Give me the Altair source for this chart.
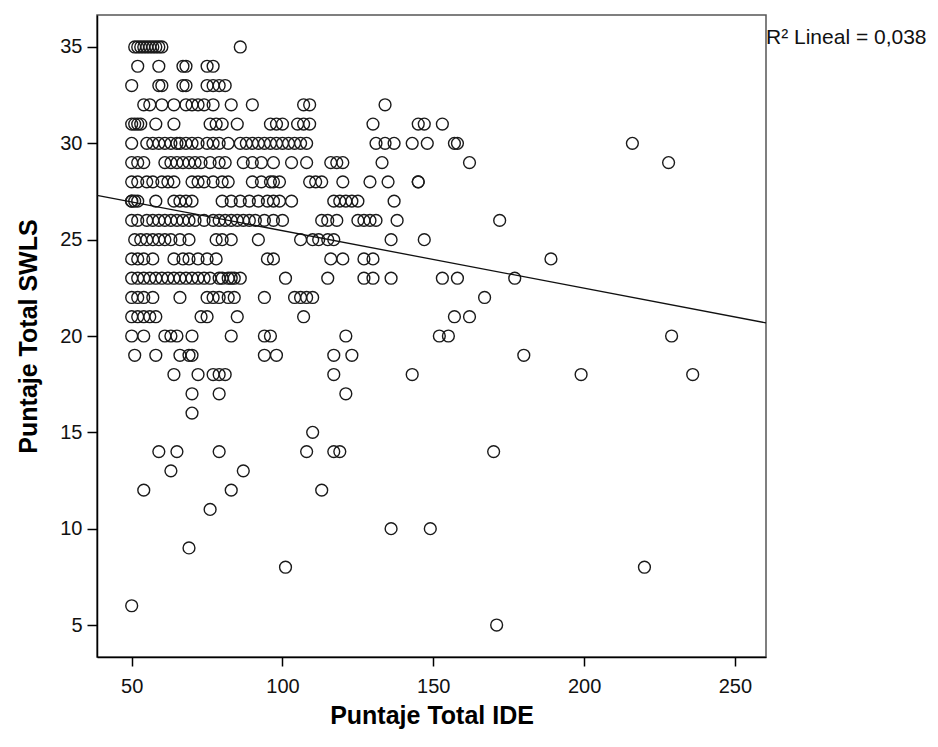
import altair as alt
import pandas as pd

# IDE total scores, grouped by their SWLS total score
ide_swls35 = [51, 52, 53, 54, 55, 56, 57, 58, 59, 60, 86]
ide_swls34 = [52, 59, 67, 68, 75, 77]
ide_swls33 = [50, 59, 60, 67, 68, 75, 77, 79, 81]
ide_swls32 = [54, 56, 60, 64, 68, 70, 72, 74, 77, 83, 90, 107, 109, 134]
ide_swls31 = [50, 51, 52, 53, 58, 64, 76, 78, 80, 85, 96, 98, 100, 105, 107,
              109, 130, 145, 147, 153]
ide_swls30 = [50, 55, 57, 59, 61, 63, 65, 66, 68, 70, 72, 75, 77, 79, 82, 86,
              88, 90, 92, 94, 96, 98, 100, 102, 104, 106, 108, 131, 134, 137,
              143, 148, 157, 158, 216]
ide_swls29 = [50, 52, 54, 61, 63, 65, 67, 69, 71, 73, 76, 79, 81, 87, 90, 93,
              97, 103, 108, 116, 118, 120, 133, 162, 228]
ide_swls28 = [50, 52, 55, 57, 60, 62, 64, 70, 72, 74, 77, 80, 82, 90, 93, 96,
              97, 99, 109, 111, 113, 120, 129, 135, 145, 145]
ide_swls27 = [50, 50, 51, 52, 58, 64, 66, 68, 70, 80, 83, 86, 89, 92, 95, 97,
              99, 103, 117, 119, 121, 123, 125, 137]
ide_swls26 = [50, 52, 55, 57, 59, 61, 63, 65, 67, 69, 71, 74, 77, 79, 81, 83,
              85, 87, 89, 91, 94, 97, 100, 113, 115, 118, 125, 127, 129, 131,
              138, 172]
ide_swls25 = [51, 53, 55, 57, 59, 61, 63, 66, 69, 78, 80, 83, 92, 106, 110,
              112, 115, 117, 136, 147]
ide_swls24 = [50, 52, 54, 57, 64, 67, 69, 72, 75, 78, 95, 97, 116, 120, 127,
              130, 189]
ide_swls23 = [50, 52, 54, 56, 58, 60, 62, 64, 66, 68, 70, 72, 74, 76, 79, 80,
              82, 83, 84, 86, 101, 115, 127, 130, 136, 153, 158, 177]
ide_swls22 = [50, 52, 54, 57, 66, 75, 77, 79, 82, 84, 94, 104, 106, 108, 110, 167]
ide_swls21 = [50, 52, 54, 56, 58, 73, 75, 85, 107, 157, 162]
ide_swls20 = [50, 54, 61, 63, 65, 70, 83, 94, 96, 121, 152, 155, 229]
ide_swls19 = [51, 58, 66, 69, 70, 94, 98, 117, 123, 180]
ide_swls18 = [64, 72, 77, 79, 81, 117, 143, 199, 236]
ide_swls17 = [70, 79, 121]
ide_swls16 = [70]
ide_swls15 = [110]
ide_swls14 = [59, 65, 79, 108, 117, 119, 170]
ide_swls13 = [63, 87]
ide_swls12 = [54, 83, 113]
ide_swls11 = [76]
ide_swls10 = [136, 149]
ide_swls9 = [69]
ide_swls8 = [101, 220]
ide_swls6 = [50]
ide_swls5 = [171]

swls_levels = [35, 34, 33, 32, 31, 30, 29, 28, 27, 26, 25, 24, 23, 22, 21, 20,
               19, 18, 17, 16, 15, 14, 13, 12, 11, 10, 9, 8, 6, 5]
ide_groups = [ide_swls35, ide_swls34, ide_swls33, ide_swls32, ide_swls31,
              ide_swls30, ide_swls29, ide_swls28, ide_swls27, ide_swls26,
              ide_swls25, ide_swls24, ide_swls23, ide_swls22, ide_swls21,
              ide_swls20, ide_swls19, ide_swls18, ide_swls17, ide_swls16,
              ide_swls15, ide_swls14, ide_swls13, ide_swls12, ide_swls11,
              ide_swls10, ide_swls9, ide_swls8, ide_swls6, ide_swls5]

# linear fit line end points
fit_x = [38.5, 260.3]
fit_y = [27.3, 20.68]

x_ticks = [50, 100, 150, 200, 250]
y_ticks = [5, 10, 15, 20, 25, 30, 35]
x_domain = [38.5, 260.3]
y_domain = [3.34, 36.66]
r2_label = ["R² Lineal = 0,038"]

points_df = pd.DataFrame(
    [{"IDE": x, "SWLS": y} for y, xs in zip(swls_levels, ide_groups) for x in xs]
)
fit_df = pd.DataFrame({"IDE": fit_x, "SWLS": fit_y})
label_df = pd.DataFrame({"label": r2_label})

x_enc = alt.X(
    "IDE:Q",
    title="Puntaje Total IDE",
    scale=alt.Scale(domain=x_domain, nice=False, zero=False),
    axis=alt.Axis(values=x_ticks, format="d"),
)
y_enc = alt.Y(
    "SWLS:Q",
    title="Puntaje Total SWLS",
    scale=alt.Scale(domain=y_domain, nice=False, zero=False),
    axis=alt.Axis(values=y_ticks, format="d"),
)

points = alt.Chart(points_df).mark_point(
    shape="circle", filled=False, color="#1a1a1a", size=140, strokeWidth=1.4,
    opacity=1,
).encode(x=x_enc, y=y_enc)

fit_line = alt.Chart(fit_df).mark_line(color="#111111", strokeWidth=1.3).encode(
    x=alt.X("IDE:Q"), y=alt.Y("SWLS:Q")
)

r2_text = alt.Chart(label_df).mark_text(
    align="left", baseline="middle", font="Liberation Sans", fontSize=21,
    color="#111111",
).encode(text="label:N", x=alt.value(669), y=alt.value(23))

chart = alt.layer(points, fit_line, r2_text).properties(
    width=669,
    height=642,
    autosize=alt.AutoSizeParams(type="none"),
    padding={"left": 89, "top": 7, "right": 164, "bottom": 80},
).configure_view(
    stroke="#555555", strokeWidth=1.5, fill="white"
).configure_axis(
    grid=False,
    domainColor="#000000",
    domainWidth=1.5,
    tickColor="#000000",
    tickWidth=1.5,
    labelFont="Liberation Sans",
    labelFontSize=20,
    labelColor="#111111",
    titleFont="Liberation Sans",
    titleFontSize=25,
    titleFontWeight="bold",
    titleColor="#000000",
).configure_axisX(
    tickSize=9, labelPadding=10, titlePadding=7,
).configure_axisY(
    tickSize=10, labelPadding=5, titlePadding=18,
)

chart.save("out.html", embed_options={"renderer": "svg", "actions": False})
